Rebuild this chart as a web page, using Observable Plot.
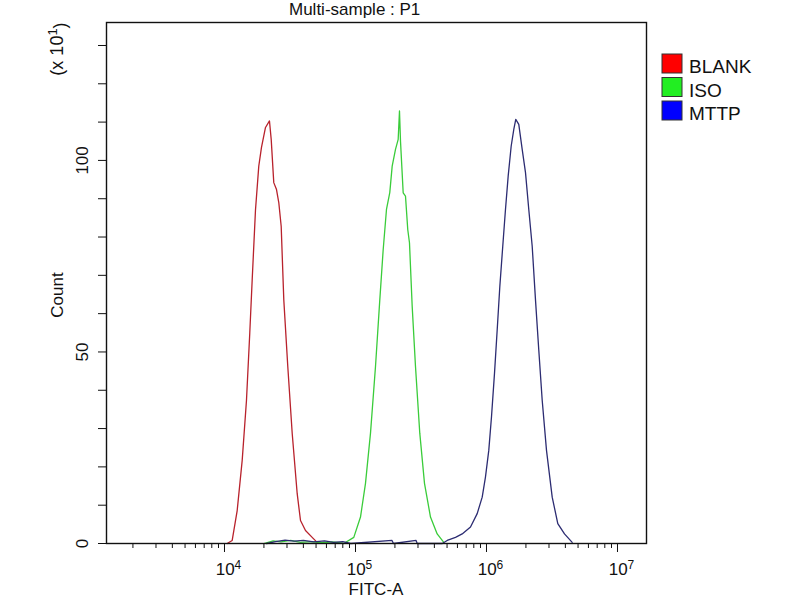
<!DOCTYPE html>
<html>
<head>
<meta charset="utf-8">
<script src="https://cdn.jsdelivr.net/npm/d3@7"></script>
<script src="https://cdn.jsdelivr.net/npm/@observablehq/plot@0.6"></script>
<style>
  body { margin: 0; background: #fff; }
</style>
</head>
<body>
<div id="chart"></div>
<script>
// histogramas FITC-A (count en unidades x10)
const fitcBlank = [10480, 11450, 12500, 13650, 14720, 15600, 16270, 17240, 18270, 19160, 20560, 22050, 22730, 23780, 24950, 25970, 27090, 28360, 30420, 32870, 35890, 38040, 41530, 46710, 51010]
const countBlank = [0, 0.8, 8.6, 21.7, 37.4, 55, 68.8, 87, 98.5, 103.4, 108.6, 110.3, 105.5, 94.2, 92.4, 89, 82.8, 63.6, 46.2, 28.8, 13, 6, 3.4, 1.6, 0.3]

const fitcIso = [20000, 23500, 27000, 32000, 38000, 46000, 56000, 66000, 75000, 81410, 97060, 109190, 119230, 130190, 142140, 153300, 162700, 172400, 182700, 190600, 202000, 211800, 216700, 220600, 231300, 240800, 250700, 258300, 270900, 287100, 309600, 336300, 373700, 420300, 472100]
const countIso = [0, 0.7, 0.4, 0.8, 0.3, 0.5, 0.2, 0.4, 0.2, 0, 1.6, 6.9, 15.7, 28.8, 46.2, 63.6, 76.7, 87.2, 91.6, 98.5, 102.9, 105.5, 112.9, 105, 91.5, 90.7, 81.9, 78.5, 61.9, 46.2, 28.8, 15.7, 6.9, 2.5, 0.3]

const fitcMttp = [21000, 24500, 29000, 34000, 40000, 48000, 58000, 68000, 80000, 92000, 190000, 195000, 290000, 296000, 460000, 501200, 580000, 652300, 755000, 849200, 927300, 982600, 1041000, 1092000, 1151000, 1207000, 1264000, 1331000, 1396000, 1464000, 1543000, 1616000, 1673000, 1764000, 1873000, 1985000, 2103000, 2233000, 2366000, 2507000, 2662000, 2871000, 3174000, 3502000, 3939000, 4510000]
const countMttp = [0, 0.5, 0.9, 0.6, 0.8, 0.4, 0.7, 0.3, 0.5, 0, 0.8, 0, 0.8, 0, 0, 0.8, 1.6, 2.5, 4.3, 7.8, 12.1, 17.4, 24.3, 33.1, 44.4, 55.8, 67.1, 77.6, 87.2, 95.9, 103.7, 108.1, 110.7, 109.4, 102.9, 96.8, 87.2, 77.6, 63.6, 50.5, 37.4, 24.3, 12.1, 5.2, 2.5, 0.3]

const muestras = ["BLANK", "ISO", "MTTP"]
const colLinea = ["#b8222c", "#3acc3a", "#2c2c72"]
const colLeyenda = ["#ff0000", "#22ee22", "#0000ff"]

const xDominio = [1257, 16650000]
const yDominio = [0, 136]
const xMayores = [1e4, 1e5, 1e6, 1e7]
const yTicks = [0, 10, 20, 30, 40, 50, 60, 70, 80, 90, 100, 110, 120, 130]
const yEtiquetas = [0, 50, 100]

// ticks menores 2..9 x 10^k dentro del dominio
let xMenores = []
for (let k = 3; k <= 7; k++) {
  for (let m = 2; m <= 9; m++) {
    let v = m * Math.pow(10, k)
    if (v >= xDominio[0] && v <= xDominio[1]) xMenores.push(v)
  }
}

const filas = [
  ...fitcBlank.map((f, i) => ({muestra: "BLANK", fitc: f, count: countBlank[i]})),
  ...fitcIso.map((f, i) => ({muestra: "ISO", fitc: f, count: countIso[i]})),
  ...fitcMttp.map((f, i) => ({muestra: "MTTP", fitc: f, count: countMttp[i]}))
]

const fuente = "'Liberation Sans', Arial, sans-serif"

let chart = Plot.plot({
  width: 800,
  height: 600,
  marginLeft: 106,
  marginRight: 154,
  marginTop: 22,
  marginBottom: 57,
  style: {fontFamily: fuente, fontSize: "17px", color: "#111", background: "#fff"},
  x: {type: "log", domain: xDominio},
  y: {domain: yDominio},
  color: {domain: muestras, range: colLinea},
  marks: [
    Plot.line(filas, {x: "fitc", y: "count", z: "muestra", stroke: "muestra", strokeWidth: 1.3}),
    Plot.frame({stroke: "#111", strokeWidth: 1.4}),
    Plot.axisX({ticks: xMenores, tickSize: 5, tickFormat: () => "", label: null, stroke: "#111"}),
    Plot.axisX({ticks: xMayores, tickSize: 9, tickPadding: 10, tickFormat: d => String(Math.round(Math.log10(d))), label: null, stroke: "#111"}),
    Plot.axisY({ticks: yTicks, tickSize: 8, tickPadding: 11, tickRotate: -90,
      tickFormat: d => yEtiquetas.includes(d) ? String(d) : "", label: null, stroke: "#111"})
  ]
})

d3.select('#chart').append(() => chart)

const svg = d3.select(chart)

// etiquetas 10^k con superindice
svg.selectAll('g[aria-label="x-axis tick label"] text').each(function() {
  let t = d3.select(this)
  let exp = t.text()
  if (exp === "") return
  t.text("10").attr("dx", 4)
  t.append("tspan").attr("dy", "-0.5em").attr("font-size", "12px").text(exp)
})

// titulo
svg.append("text").attr("x", 289).attr("y", 15).attr("text-anchor", "start")
  .attr("font-size", 17).attr("fill", "#111").text("Multi-sample : P1")

// titulo del eje x
svg.append("text").attr("x", 376).attr("y", 595).attr("text-anchor", "middle").attr("font-size", 17).attr("fill", "#111").text("FITC-A")

// titulos del eje y
svg.append("text").attr("transform", "translate(63,295) rotate(-90)").attr("text-anchor", "middle")
  .attr("font-size", 17).attr("fill", "#111").text("Count")
let mult = svg.append("text").attr("transform", "translate(63,49) rotate(-90)").attr("text-anchor", "middle")
  .attr("font-size", 18).attr("fill", "#111")
mult.append("tspan").text("(x 10")
mult.append("tspan").attr("dy", "-0.5em").attr("font-size", "13px").text("1")
mult.append("tspan").attr("dy", "0.5em").text(")")

// leyenda
let ley = svg.append("g").attr("text-anchor", "start")
muestras.forEach((m, i) => {
  ley.append("rect").attr("x", 662).attr("y", 54 + i * 23.5).attr("width", 20).attr("height", 19)
    .attr("fill", colLeyenda[i]).attr("stroke", "#333").attr("stroke-width", 1)
  ley.append("text").attr("x", 689).attr("y", 73 + i * 23.5).attr("font-size", 19).attr("fill", "#111").text(m)
})
</script>
</body>
</html>
